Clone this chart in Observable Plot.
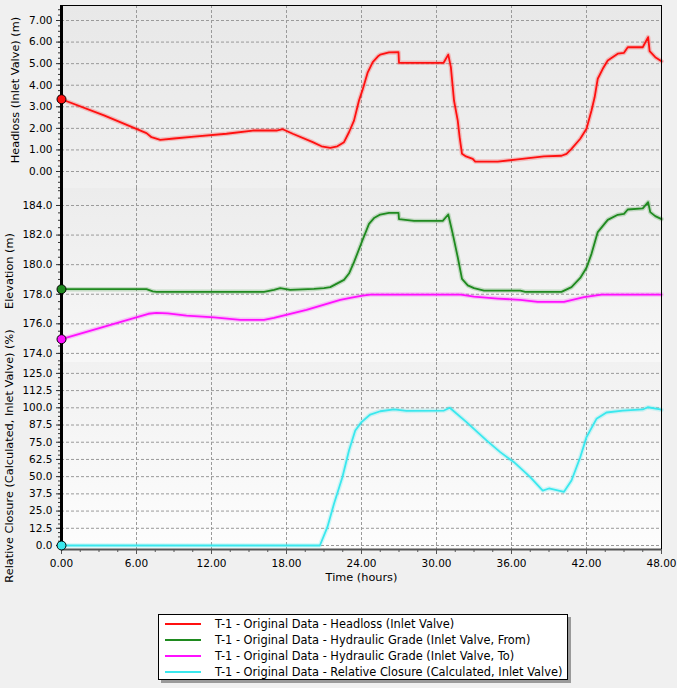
<!DOCTYPE html>
<html>
<head>
<meta charset="utf-8">
<script src="https://cdn.jsdelivr.net/npm/d3@7"></script>
<script src="https://cdn.jsdelivr.net/npm/@observablehq/plot@0.6"></script>
<style>
  body { margin: 0; background: #f0f0f0; }
  #wrap { position: relative; width: 677px; height: 688px; background: #f0f0f0; overflow: hidden;
          font-family: "DejaVu Sans", sans-serif; font-size: 11px; color: #000; }
  .bg { position: absolute; }
  .plotbox { position: absolute; left: 0; }
  .plotbox svg { background: transparent !important; overflow: visible; }
  .ylab { position: absolute; white-space: nowrap; transform: translate(-50%, -50%) rotate(-90deg); font-size: 11.3px; }
  #legend { position: absolute; left: 158px; top: 614px; width: 408px; height: 64px; background: #fff;
            border: 1px solid #000; box-shadow: 3px 3px 0 #9a9a9a; }
  .lrow { position: absolute; left: 0; height: 16px; width: 100%; }
  .lline { position: absolute; left: 6px; width: 36px; height: 2px; top: 7px; }
  .ltext { position: absolute; left: 56px; top: 0; line-height: 16px; white-space: nowrap; font-size: 11.4px; }
</style>
</head>
<body>
<div id="wrap"></div>
<script>
// ---------------- data ----------------
const timeTicks = [0, 6, 12, 18, 24, 30, 36, 42, 48];
const headlossTicks = [0, 1, 2, 3, 4, 5, 6, 7];
const elevationTicks = [174, 176, 178, 180, 182, 184];
const closureTicks = [0, 12.5, 25, 37.5, 50, 62.5, 75, 87.5, 100, 112.5, 125];

const seriesNames = [
  "T-1 - Original Data - Headloss (Inlet Valve)",
  "T-1 - Original Data - Hydraulic Grade (Inlet Valve, From)",
  "T-1 - Original Data - Hydraulic Grade (Inlet Valve, To)",
  "T-1 - Original Data - Relative Closure (Calculated, Inlet Valve)"
];
const seriesColors = ["#ff1010", "#1f8a1f", "#ff10ff", "#3ae8ee"];

// Headloss (m)
const headlossT = [0, 3.4, 6.8, 7.2, 7.9, 9.0, 10.6, 13.2, 15.3, 17.2, 17.7, 18.5, 20.1, 20.8, 21.5, 22.07, 22.6, 23.0, 23.4, 23.8, 24.07, 24.5, 24.9, 25.3, 25.5, 26.2, 26.96, 27.0, 30.57, 30.94, 31.15, 31.4, 31.7, 31.85, 32.04, 32.36, 32.9, 33.1, 34.9, 36.5, 38.6, 40.0, 40.4, 40.8, 41.5, 42.0, 42.4, 42.65, 42.9, 43.3, 43.7, 44.5, 45.0, 45.3, 46.5, 46.93, 47.05, 47.5, 48];
const headlossV = [3.35, 2.60, 1.78, 1.59, 1.47, 1.53, 1.62, 1.75, 1.90, 1.90, 1.96, 1.75, 1.36, 1.17, 1.10, 1.17, 1.36, 1.82, 2.36, 3.29, 3.76, 4.60, 5.07, 5.33, 5.42, 5.52, 5.53, 5.04, 5.04, 5.42, 4.84, 3.29, 2.36, 1.59, 0.82, 0.70, 0.59, 0.46, 0.46, 0.56, 0.70, 0.73, 0.82, 1.05, 1.52, 1.98, 2.83, 3.44, 4.30, 4.76, 5.15, 5.46, 5.50, 5.76, 5.76, 6.23, 5.58, 5.30, 5.11];

// Hydraulic Grade (From) (m)
const gradeFromT = [0, 6.8, 7.3, 7.6, 16.2, 17.0, 17.5, 18.3, 20.2, 21.0, 21.5, 22.6, 23.0, 23.4, 24.07, 24.6, 25.0, 25.5, 26.2, 26.96, 27.0, 28.2, 30.5, 30.94, 31.3, 31.7, 32.04, 32.5, 33.0, 33.8, 36.7, 37.1, 40.0, 40.8, 41.5, 42.0, 42.4, 42.9, 43.7, 44.5, 45.0, 45.3, 46.5, 46.93, 47.1, 47.5, 48];
const gradeFromV = [178.34, 178.34, 178.2, 178.16, 178.16, 178.3, 178.41, 178.3, 178.36, 178.42, 178.48, 178.97, 179.4, 180.17, 181.63, 182.76, 183.15, 183.39, 183.5, 183.5, 183.08, 182.96, 182.96, 183.39, 182.08, 180.5, 179.04, 178.6, 178.41, 178.25, 178.25, 178.16, 178.16, 178.48, 179.1, 179.79, 180.73, 182.2, 183.03, 183.37, 183.43, 183.73, 183.8, 184.23, 183.55, 183.28, 183.08];

// Hydraulic Grade (To) (m)
const gradeToT = [0, 6.95, 7.6, 8.5, 10.0, 12.2, 14.3, 16.2, 17.0, 19.6, 22.3, 23.1, 24.07, 24.7, 31.95, 33.0, 34.9, 36.7, 38.1, 40.2, 41.8, 43.2, 48];
const gradeToV = [174.96, 176.68, 176.74, 176.7, 176.56, 176.44, 176.27, 176.27, 176.4, 176.95, 177.62, 177.76, 177.91, 177.98, 177.98, 177.84, 177.71, 177.62, 177.49, 177.49, 177.8, 177.98, 177.98];

// Relative Closure (%)
const closureT = [0, 20.67, 21.27, 21.8, 22.47, 23.0, 23.5, 24.0, 24.7, 25.5, 26.6, 27.6, 30.6, 31.06, 32.4, 34.0, 35.1, 36.2, 37.5, 38.5, 39.0, 40.2, 40.8, 41.5, 42.0, 42.8, 43.6, 44.9, 46.5, 46.9, 47.9, 48];
const closureV = [0, 0, 13.3, 30.3, 49.6, 69, 83.5, 89.6, 95.1, 97.5, 98.8, 97.7, 98, 100, 89.6, 76.3, 67.8, 60.5, 49.6, 39.9, 41.4, 39, 47.2, 64.1, 78.7, 92, 96.6, 98, 98.8, 100.4, 98.8, 98.5];

const zip = (ts, vs) => ts.map((t, i) => ({t, v: vs[i]}));

// ---------------- layout ----------------
const W = 677, ML = 61, MR = 16;
const FONT = '"DejaVu Sans", sans-serif';
const TICK_FS = 10.5;
const wrap = document.getElementById("wrap");

function range(a, b, s) { const out = []; for (let v = a; v <= b + 1e-9; v += s) out.push(+v.toFixed(4)); return out; }

function bg(top, height, c1, c2) {
  const d = document.createElement("div");
  d.className = "bg";
  Object.assign(d.style, {left: ML + "px", top: top + "px", width: (W - ML - MR) + "px", height: height + "px",
    background: `linear-gradient(${c1}, ${c2})`});
  wrap.appendChild(d);
}

const gridStyle = {stroke: "#9a9a9a", strokeOpacity: 1, strokeDasharray: "3,2", strokeWidth: 1};

function panel({top, svgHeight, marginTop = 0, marginBottom = 0, yDomain, yTicks, yMinor, yFmt, series, topBorder = false, xAxis = false}) {
  const marks = [
    Plot.gridY(yTicks, gridStyle),
    Plot.gridX(timeTicks.slice(1, -1), gridStyle),
  ];
  for (const s of series) {
    marks.push(Plot.line(s.data, {x: "t", y: "v", stroke: s.color, strokeWidth: 4.5, strokeOpacity: 0.22}));
    marks.push(Plot.line(s.data, {x: "t", y: "v", stroke: s.color, strokeWidth: 1.8}));
  }
  marks.push(Plot.ruleX([48], {stroke: "#000", strokeWidth: 1}));
  if (topBorder) marks.push(Plot.ruleY([yDomain[1]], {stroke: "#000", strokeWidth: 1}));
  if (xAxis) {
    marks.push(Plot.ruleY([yDomain[0]], {stroke: "#555", strokeWidth: 2}));
    marks.push(Plot.axisX(range(0, 48, 1.5), {tickSize: 3, stroke: "#555", tickFormat: () => "", label: null}));
    marks.push(Plot.axisX(timeTicks, {tickSize: 5, tickPadding: 5, stroke: "#555", tickFormat: d3.format(".2f"), fontSize: TICK_FS, fill: "#000", label: null}));
  }
  marks.push(Plot.axisY(yMinor, {tickSize: 3, stroke: "#333", tickFormat: () => "", label: null}));
  marks.push(Plot.axisY(yTicks, {tickSize: 5, tickPadding: 4, stroke: "#333", tickFormat: d3.format(yFmt), fontSize: TICK_FS, fill: "#000", label: null}));
  marks.push(Plot.ruleX([0], {stroke: "#000", strokeWidth: 3}));
  for (const s of series) {
    marks.push(Plot.dot([s.data[0]], {x: "t", y: "v", r: 4.5, fill: s.color, stroke: "#000", strokeWidth: 1}));
  }
  const chart = Plot.plot({
    width: W, height: svgHeight,
    marginLeft: ML, marginRight: MR, marginTop, marginBottom,
    style: {background: "transparent", fontFamily: FONT, fontSize: TICK_FS + "px", overflow: "visible"},
    x: {domain: [0, 48], axis: null, label: null},
    y: {domain: yDomain, axis: null, label: null},
    marks
  });
  const box = document.createElement("div");
  box.className = "plotbox";
  box.style.top = top + "px";
  box.appendChild(chart);
  wrap.appendChild(box);
}

// backgrounds
bg(5, 183, "#e8e8e8", "#f0f0f0");
bg(188, 174, "#ececec", "#f7f7f7");
bg(362, 187, "#f1f1f1", "#fdfdfd");

// Panel 1: Headloss
panel({
  top: 0, svgHeight: 188, marginTop: 5, yDomain: [-0.788, 7.696],
  yTicks: headlossTicks, yMinor: range(-0.75, 7.5, 0.25), yFmt: ".2f",
  series: [{data: zip(headlossT, headlossV), color: seriesColors[0]}], topBorder: true
});
// Panel 2: Elevation
panel({
  top: 188, svgHeight: 174, yDomain: [173.385, 185.149],
  yTicks: elevationTicks, yMinor: range(173.5, 185, 0.5), yFmt: ".1f",
  series: [{data: zip(gradeFromT, gradeFromV), color: seriesColors[1]}, {data: zip(gradeToT, gradeToV), color: seriesColors[2]}]
});
// Panel 3: Relative Closure
panel({
  top: 362, svgHeight: 232, marginBottom: 45, yDomain: [-2.905, 132.9],
  yTicks: closureTicks, yMinor: range(0, 131.25, 3.125), yFmt: ".1f",
  series: [{data: zip(closureT, closureV), color: seriesColors[3]}], xAxis: true
});

// axis titles
function label(text, cx, cy, rotate = true) {
  const d = document.createElement("div");
  d.className = rotate ? "ylab" : "";
  d.textContent = text;
  if (rotate) { d.style.left = cx + "px"; d.style.top = cy + "px"; }
  else Object.assign(d.style, {position: "absolute", left: cx + "px", top: cy + "px", transform: "translate(-50%,-50%)", whiteSpace: "nowrap", fontSize: "11.3px"});
  wrap.appendChild(d);
}
label("Headloss (Inlet Valve) (m)", 14.5, 90);
label("Elevation (m)", 9, 271);
label("Relative Closure (Calculated, Inlet Valve) (%)", 8.5, 456);
label("Time (hours)", 361.5, 577, false);

// legend
const leg = document.createElement("div");
leg.id = "legend";
seriesNames.forEach((name, i) => {
  const row = document.createElement("div");
  row.className = "lrow";
  row.style.top = (1 + i * 16) + "px";
  const ln = document.createElement("div");
  ln.className = "lline";
  ln.style.background = seriesColors[i];
  const tx = document.createElement("div");
  tx.className = "ltext";
  tx.textContent = name;
  row.appendChild(ln); row.appendChild(tx);
  leg.appendChild(row);
});
wrap.appendChild(leg);
</script>
</body>
</html>
